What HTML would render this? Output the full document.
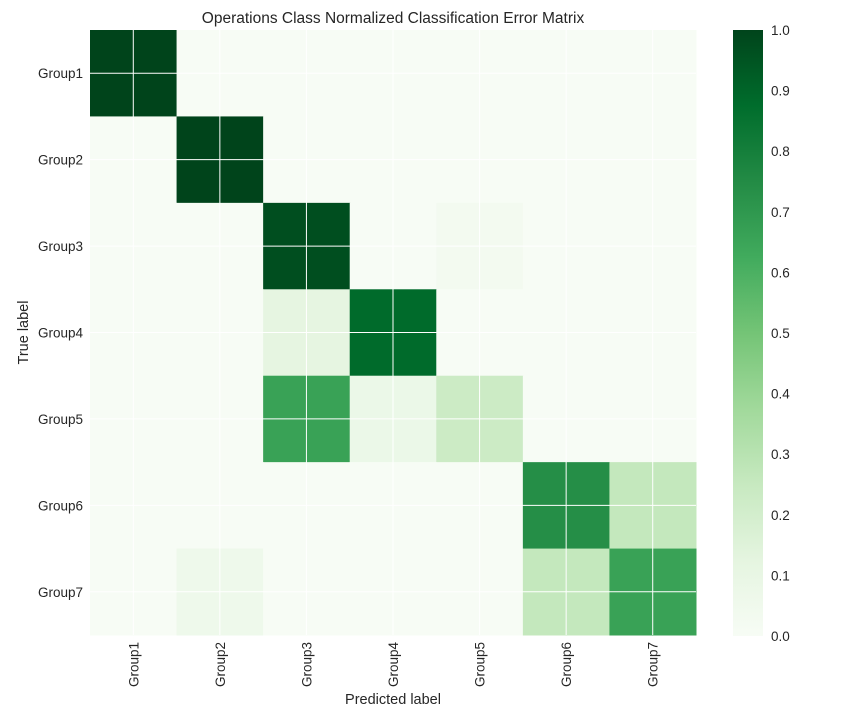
<!DOCTYPE html>
<html><head><meta charset="utf-8"><style>
body{margin:0;background:#fff;font-family:"Liberation Sans",sans-serif}
</style></head><body>
<svg id="c" width="864" height="720" xmlns="http://www.w3.org/2000/svg"></svg>
<script>
const labels=["Group1","Group2","Group3","Group4","Group5","Group6","Group7"];
const row1=[1,0,0,0,0,0,0];
const row2=[0,1,0,0,0,0,0];
const row3=[0,0,0.97,0,0.03,0,0];
const row4=[0,0,0.12,0.88,0,0,0];
const row5=[0,0,0.66,0.08,0.23,0,0];
const row6=[0,0,0,0,0,0.74,0.26];
const row7=[0,0.06,0,0,0,0.26,0.66];
const cbTicks=[0,0.1,0.2,0.3,0.4,0.5,0.6,0.7,0.8,0.9,1.0];
const matrix=[row1,row2,row3,row4,row5,row6,row7];
const NS="http://www.w3.org/2000/svg";
const svg=document.getElementById('c');
const X0=90,X1=696,Y0=30,Y1=635;
const n=labels.length,cw=(X1-X0)/n,ch=(Y1-Y0)/n;
const xs=i=>X0+i*cw, ys=i=>Y0+i*ch;
const stops=["#f7fcf5","#e5f5e0","#c7e9c0","#a1d99b","#74c476","#41ab5d","#238b45","#006d2c","#00441b"];
function hx(h){return[1,3,5].map(i=>parseInt(h.substr(i,2),16));}
function cmap(v){v=Math.max(0,Math.min(1,v));const p=v*8,i=Math.min(7,Math.floor(p)),t=p-i;const a=hx(stops[i]),b=hx(stops[i+1]);return"rgb("+a.map((x,k)=>Math.round(x+(b[k]-x)*t)).join(",")+")";}
function el(tag,attrs,txt){const e=document.createElementNS(NS,tag);for(const k in attrs)e.setAttribute(k,attrs[k]);if(txt!==undefined)e.textContent=txt;svg.appendChild(e);return e;}
matrix.forEach((row,r)=>row.forEach((v,c)=>{
 const e=el('rect',{x:xs(c),y:ys(r),width:cw+0.5,height:ch+0.5,fill:cmap(v)});
 
 
}));
for(let i=0;i<n;i++){
 const gx=el('line',{x1:xs(i)+cw/2,x2:xs(i)+cw/2,y1:Y0,y2:Y1,stroke:'#fff','stroke-width':1});
 
 
 const gy=el('line',{x1:X0,x2:X1,y1:ys(i)+ch/2,y2:ys(i)+ch/2,stroke:'#fff','stroke-width':1});
 
 
 const yl=el('text',{x:X0-7,y:ys(i)+ch/2+5,'text-anchor':'end','font-size':13.5,fill:'#262626'},labels[i]);
 
 
 const cx=xs(i)+cw/2+5;
 const xl=el('text',{x:cx,y:Y1+7,'text-anchor':'end','font-size':13.5,fill:'#262626',transform:`rotate(-90 ${cx} ${Y1+7})`},labels[i]);
 
 
}
const CX=733,CW=30,CY0=30,CY1=636;
const defs=el('defs',{});
const g=document.createElementNS(NS,'linearGradient');g.setAttribute('id','gr');g.setAttribute('x1','0');g.setAttribute('y1','1');g.setAttribute('x2','0');g.setAttribute('y2','0');
stops.forEach((s,i)=>{const st=document.createElementNS(NS,'stop');st.setAttribute('offset',i/8);st.setAttribute('stop-color',s);g.appendChild(st);});
defs.appendChild(g);
const cb=el('rect',{x:CX,y:CY0,width:CW,height:CY1-CY0,fill:'url(#gr)'});


const cy=v=>CY1-v*(CY1-CY0);
cbTicks.forEach(v=>{
 const t=el('text',{x:CX+CW+8,y:cy(v)+5,'font-size':13.5,fill:'#262626'},v.toFixed(1));
 
 
});
const ti=el('text',{x:(X0+X1)/2,y:23,'text-anchor':'middle','font-size':15.5,fill:'#262626'},"Operations Class Normalized Classification Error Matrix");


const xt=el('text',{x:(X0+X1)/2,y:704,'text-anchor':'middle','font-size':14.5,fill:'#262626'},"Predicted label");


const yt=el('text',{x:28,y:(Y0+Y1)/2,'text-anchor':'middle','font-size':14.5,fill:'#262626',transform:`rotate(-90 28 ${(Y0+Y1)/2})`},"True label");


</script>
</body></html>
